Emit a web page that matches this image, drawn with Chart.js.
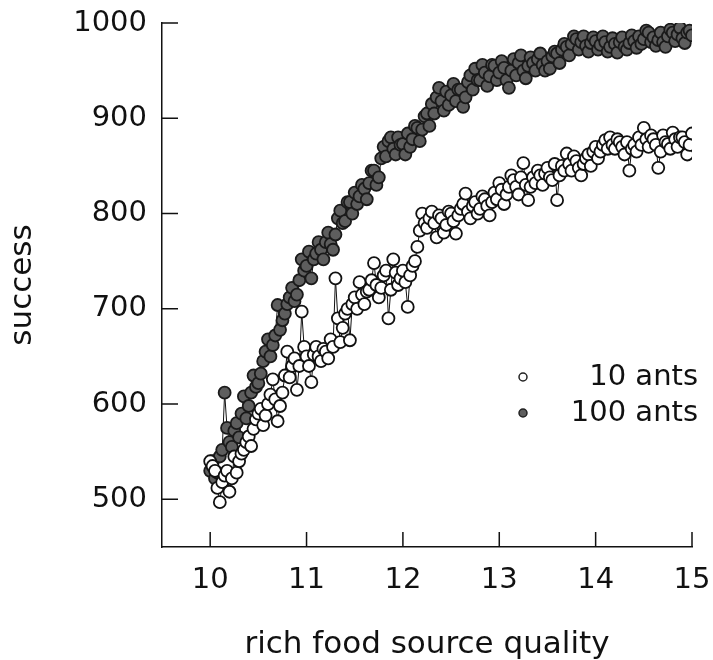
<!DOCTYPE html>
<html>
<head>
<meta charset="utf-8">
<script src="https://cdn.jsdelivr.net/npm/chart.js@4.4.1/dist/chart.umd.min.js"></script>
<style>
  html, body { margin: 0; padding: 0; background: #fff; }
  #chart { display: block; }
</style>
</head>
<body>
<canvas id="chart" width="713" height="660"></canvas>
<script>
// rich food source quality (x)
var quality = [
  10.000, 10.025, 10.050, 10.075, 10.100, 10.125, 10.150, 10.175, 10.200, 10.225, 10.250, 10.275, 10.300, 10.325, 10.350, 10.375, 10.400, 10.425, 10.450, 10.475,
  10.500, 10.525, 10.550, 10.575, 10.600, 10.625, 10.650, 10.675, 10.700, 10.725, 10.750, 10.775, 10.800, 10.825, 10.850, 10.875, 10.900, 10.925, 10.950, 10.975,
  11.000, 11.025, 11.050, 11.075, 11.100, 11.125, 11.150, 11.175, 11.200, 11.225, 11.250, 11.275, 11.300, 11.325, 11.350, 11.375, 11.400, 11.425, 11.450, 11.475,
  11.500, 11.525, 11.550, 11.575, 11.600, 11.625, 11.650, 11.675, 11.700, 11.725, 11.750, 11.775, 11.800, 11.825, 11.850, 11.875, 11.900, 11.925, 11.950, 11.975,
  12.000, 12.025, 12.050, 12.075, 12.100, 12.125, 12.150, 12.175, 12.200, 12.225, 12.250, 12.275, 12.300, 12.325, 12.350, 12.375, 12.400, 12.425, 12.450, 12.475,
  12.500, 12.525, 12.550, 12.575, 12.600, 12.625, 12.650, 12.675, 12.700, 12.725, 12.750, 12.775, 12.800, 12.825, 12.850, 12.875, 12.900, 12.925, 12.950, 12.975,
  13.000, 13.025, 13.050, 13.075, 13.100, 13.125, 13.150, 13.175, 13.200, 13.225, 13.250, 13.275, 13.300, 13.325, 13.350, 13.375, 13.400, 13.425, 13.450, 13.475,
  13.500, 13.525, 13.550, 13.575, 13.600, 13.625, 13.650, 13.675, 13.700, 13.725, 13.750, 13.775, 13.800, 13.825, 13.850, 13.875, 13.900, 13.925, 13.950, 13.975,
  14.000, 14.025, 14.050, 14.075, 14.100, 14.125, 14.150, 14.175, 14.200, 14.225, 14.250, 14.275, 14.300, 14.325, 14.350, 14.375, 14.400, 14.425, 14.450, 14.475,
  14.500, 14.525, 14.550, 14.575, 14.600, 14.625, 14.650, 14.675, 14.700, 14.725, 14.750, 14.775, 14.800, 14.825, 14.850, 14.875, 14.900, 14.925, 14.950, 14.975,
  15.000
];

// success, 10 ants
var ants10 = [
  540, 535, 530, 512, 497, 518, 525, 530, 508, 522, 545, 528, 540, 548, 552, 560, 566, 556, 574, 584,
  590, 595, 578, 588, 600, 610, 626, 605, 582, 598, 612, 630, 655, 628, 640, 648, 615, 640, 697, 660,
  650, 640, 623, 652, 660, 650, 645, 658, 655, 648, 668, 660, 732, 690, 665, 680, 695, 700, 667, 705,
  712, 700, 728, 715, 705, 718, 720, 730, 748, 725, 712, 722, 735, 740, 690, 720, 752, 738, 725, 732,
  740, 728, 702, 735, 745, 750, 765, 782, 800, 790, 785, 795, 802, 790, 775, 798, 795, 780, 788, 802,
  800, 792, 779, 798, 805, 810, 821, 802, 795, 808, 812, 800, 805, 818, 815, 808, 798, 812, 822, 815,
  832, 825, 810, 820, 828, 840, 835, 828, 820, 838, 853, 830, 814, 828, 838, 832, 845, 840, 830, 842,
  848, 838, 835, 852, 814, 840, 850, 845, 863, 852, 845, 860, 855, 848, 840, 852, 858, 862, 850, 865,
  870, 858, 865, 872, 877, 868, 880, 872, 868, 878, 875, 870, 862, 875, 845, 868, 872, 865, 880, 872,
  890, 878, 870, 882, 878, 872, 848, 865, 882, 875, 873, 868, 885, 878, 870, 880, 880, 875, 862, 872,
  884
];

// success, 100 ants
var ants100 = [
  530, 540, 522, 528, 545, 552, 612, 575, 560, 555, 572, 580, 565, 590, 608, 585, 598, 612, 630, 618,
  622, 632, 645, 655, 668, 650, 662, 672, 704, 678, 688, 695, 705, 712, 722, 708, 715, 730, 752, 740,
  745, 760, 732, 752, 758, 770, 762, 752, 770, 780, 768, 762, 778, 795, 803, 790, 792, 812, 812, 800,
  822, 810, 818, 830, 826, 815, 832, 845, 845, 830, 838, 858, 870, 860, 876, 880, 868, 862, 880, 872,
  873, 862, 884, 870, 878, 892, 890, 876, 888, 902, 905, 892, 915, 905, 922, 932, 918, 908, 928, 914,
  924, 936, 918, 930, 930, 912, 922, 938, 945, 930, 952, 940, 940, 956, 948, 934, 944, 956, 955, 940,
  948, 960, 953, 940, 932, 950, 962, 945, 958, 966, 950, 942, 955, 964, 958, 950, 962, 968, 956, 950,
  960, 952, 965, 970, 968, 958, 972, 978, 975, 966, 978, 986, 983, 972, 980, 986, 976, 970, 979, 985,
  981, 972, 977, 986, 980, 970, 975, 984, 978, 969, 980, 985, 975, 972, 979, 987, 981, 974, 986, 978,
  983, 992, 990, 980, 985, 976, 982, 990, 980, 975, 986, 993, 990, 981, 988, 995, 984, 979, 990, 992,
  987
];

var xTicks = [10, 11, 12, 13, 14, 15];
var yTicks = [500, 600, 700, 800, 900, 1000];

var FONT = "'DejaVu Sans', sans-serif";

function pairs(xs, ys) {
  return xs.map(function (x, i) { return { x: x, y: ys[i] }; });
}

// short tick marks pointing into the plot
var innerTicks = {
  id: 'innerTicks',
  afterDraw: function (chart) {
    var ctx = chart.ctx, xs = chart.scales.x, ys = chart.scales.y;
    ctx.save();
    ctx.strokeStyle = '#111';
    ctx.lineWidth = 1.5;
    ctx.beginPath();
    xTicks.forEach(function (v) {
      var px = xs.getPixelForValue(v);
      ctx.moveTo(px, ys.bottom);
      ctx.lineTo(px, ys.bottom - 15);
    });
    yTicks.forEach(function (v) {
      var py = ys.getPixelForValue(v);
      ctx.moveTo(xs.left, py);
      ctx.lineTo(xs.left + 16, py);
    });
    ctx.stroke();
    ctx.restore();
  }
};

// legend inside the plot, lower right
var insideLegend = {
  id: 'insideLegend',
  afterDraw: function (chart) {
    var ctx = chart.ctx;
    var rows = [
      { text: chart.data.datasets[1].label, fill: '#fff', y: 377 },
      { text: chart.data.datasets[0].label, fill: '#5e5e5e', y: 413 }
    ];
    ctx.save();
    ctx.font = '29px ' + FONT;
    ctx.textAlign = 'right';
    ctx.textBaseline = 'middle';
    rows.forEach(function (r) {
      ctx.beginPath();
      ctx.arc(523, r.y, 4, 0, Math.PI * 2);
      ctx.fillStyle = r.fill;
      ctx.fill();
      ctx.lineWidth = 1.5;
      ctx.strokeStyle = '#222';
      ctx.stroke();
      ctx.fillStyle = '#111';
      ctx.fillText(r.text, 698, r.y);
    });
    ctx.restore();
  }
};

new Chart(document.getElementById('chart'), {
  type: 'scatter',
  data: {
    datasets: [
      {
        label: '100 ants',
        data: pairs(quality, ants100),
        showLine: true,
        borderColor: '#111',
        borderWidth: 1,
        pointRadius: 6,
        pointBorderWidth: 1.8,
        pointBorderColor: '#1a1a1a',
        pointBackgroundColor: '#5e5e5e',
        order: 2
      },
      {
        label: '10 ants',
        data: pairs(quality, ants10),
        showLine: true,
        borderColor: '#111',
        borderWidth: 1,
        pointRadius: 6,
        pointBorderWidth: 1.8,
        pointBorderColor: '#111',
        pointBackgroundColor: '#fff',
        order: 1
      }
    ]
  },
  options: {
    responsive: false,
    animation: false,
    layout: { padding: { top: 23, right: 21, left: 0, bottom: 0 } },
    plugins: {
      legend: { display: false },
      tooltip: { enabled: false }
    },
    scales: {
      x: {
        type: 'linear',
        min: 9.5,
        max: 15,
        afterBuildTicks: function (s) { s.ticks = xTicks.map(function (v) { return { value: v }; }); },
        afterFit: function (s) { s.height = 113; s.paddingLeft = 0; s.paddingRight = 0; },
        grid: { display: false, drawTicks: false },
        border: { display: true, color: '#111', width: 1.5 },
        ticks: { color: '#111', font: { family: FONT, size: 29 }, padding: 16, maxRotation: 0 },
        title: {
          display: true,
          text: 'rich food source quality',
          color: '#111',
          font: { family: FONT, size: 31 },
          padding: { top: 0, bottom: -4 }
        }
      },
      y: {
        min: 450,
        max: 1000,
        afterBuildTicks: function (s) { s.ticks = yTicks.map(function (v) { return { value: v }; }); },
        afterFit: function (s) { s.width = 162; s.paddingTop = 0; s.paddingBottom = 0; },
        grid: { display: false, drawTicks: false },
        border: { display: true, color: '#111', width: 1.5 },
        ticks: {
          color: '#111',
          font: { family: FONT, size: 29 },
          padding: 15,
          callback: function (v) { return String(v); }
        },
        title: {
          display: true,
          text: 'success',
          color: '#111',
          font: { family: FONT, size: 31 },
          padding: { top: 4, bottom: 0 }
        }
      }
    }
  },
  plugins: [innerTicks, insideLegend]
});
</script>
</body>
</html>
